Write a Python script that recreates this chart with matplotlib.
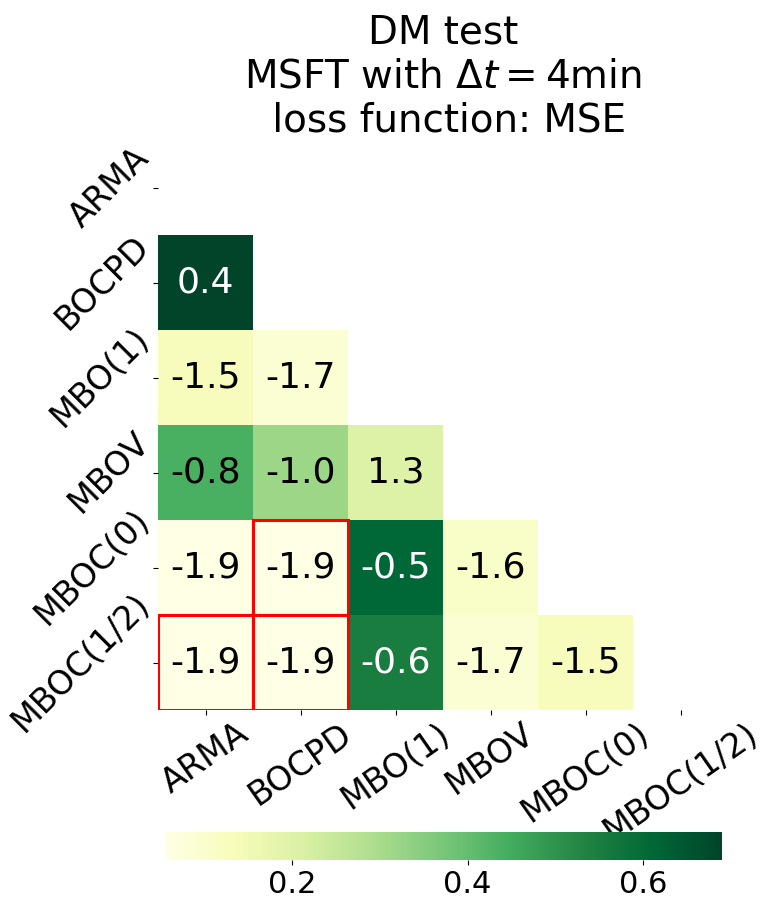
import numpy as np
import matplotlib
matplotlib.use("Agg")
import matplotlib.pyplot as plt
import seaborn as sns
from matplotlib.patches import Rectangle

models = ["ARMA", "BOCPD", "MBO(1)", "MBOV", "MBOC(0)", "MBOC(1/2)"]

# DM statistics (lower triangle, row = model, col = compared model)
dm_stat = np.array([
    [0.0,  0.0,  0.0,  0.0,  0.0, 0.0],
    [0.4,  0.0,  0.0,  0.0,  0.0, 0.0],
    [-1.5, -1.7, 0.0,  0.0,  0.0, 0.0],
    [-0.8, -1.0, 1.3,  0.0,  0.0, 0.0],
    [-1.9, -1.9, -0.5, -1.6, 0.0, 0.0],
    [-1.9, -1.9, -0.6, -1.7, -1.5, 0.0],
])

# p-values (colour of the cells)
p_values = np.array([
    [np.nan, np.nan, np.nan, np.nan, np.nan, np.nan],
    [0.69,  np.nan, np.nan, np.nan, np.nan, np.nan],
    [0.13,  0.09,  np.nan, np.nan, np.nan, np.nan],
    [0.44,  0.32,  0.20,  np.nan, np.nan, np.nan],
    [0.058, 0.055, 0.61,  0.11,  np.nan, np.nan],
    [0.055, 0.055, 0.55,  0.09,  0.13,  np.nan],
])

# cells highlighted in red (row, col)
highlight = [(4, 1), (5, 0), (5, 1)]

mask = np.triu(np.ones_like(dm_stat, dtype=bool))

W, H = 768, 905
fig = plt.figure(figsize=(W / 100, H / 100), dpi=100)
ax = fig.add_axes([158 / W, 1 - 710 / H, 570 / W, 570 / H])
cax = fig.add_axes([165 / W, 1 - 860 / H, 557 / W, 28 / H])

sns.heatmap(
    p_values, mask=mask, annot=dm_stat, fmt=".1f", cmap="YlGn",
    ax=ax, cbar_ax=cax, cbar_kws={"orientation": "horizontal"},
    annot_kws={"size": 26},
    xticklabels=models, yticklabels=models,
)

# annotation colours: white on dark cells, black otherwise
shown = [(r, c) for r in range(6) for c in range(6) if not mask[r, c]]
for txt, (r, c) in zip(ax.texts, shown):
    txt.set_color("white" if p_values[r, c] > 0.5 else "black")

for r, c in highlight:
    ax.add_patch(Rectangle((c, r), 1, 1, fill=False, edgecolor="red", lw=2.2, zorder=5))

ax.set_xticklabels(models, rotation=35, fontsize=24, ha="center")
ax.set_yticklabels(models, rotation=45, fontsize=24, va="center")
ax.tick_params(axis="y", pad=-2)
ax.tick_params(axis="x", pad=1.5)
ax.set_title("DM test\nMSFT with $\\Delta t = 4$min\n loss function: MSE", fontsize=28, pad=3)

cax.tick_params(labelsize=22)
cax.set_xticks([0.2, 0.4, 0.6])

fig.savefig("out.png", dpi=100)
